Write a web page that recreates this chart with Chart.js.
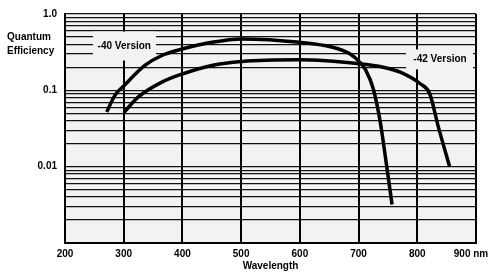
<!DOCTYPE html>
<html>
<head>
<meta charset="utf-8">
<script src="https://cdn.jsdelivr.net/npm/chart.js@4"></script>
<style>
  body { margin: 0; background: #fff; }
</style>
</head>
<body>
<canvas id="qeChart" width="491" height="272"></canvas>
<script>
// values
var wl40 = [271, 285, 301, 336, 365, 401, 450, 501, 600, 656, 685, 702, 712, 725, 737, 748, 757];
var qe40 = [0.052, 0.086, 0.116, 0.212, 0.286, 0.35, 0.426, 0.472, 0.426, 0.367, 0.301, 0.234, 0.185, 0.105, 0.038, 0.010, 0.0032];

var wl42 = [301, 325, 365, 401, 450, 501, 600, 701, 742, 771, 805, 821, 836, 855];
var qe42 = [0.052, 0.082, 0.128, 0.165, 0.212, 0.239, 0.251, 0.223, 0.201, 0.173, 0.122, 0.091, 0.033, 0.010];

var yMajorTicks = [0.01, 0.1, 1];
var yTickLabels = ['0.01', '0.1', '1.0'];
var xTicks = [200, 300, 400, 500, 600, 700, 800, 900];
var xTickLabels = ['200', '300', '400', '500', '600', '700', '800', '900 nm'];

var boldFont = { family: 'Liberation Sans, Arial, sans-serif', size: 10, weight: 'bold' };
var boldCss = 'bold 10px "Liberation Sans", Arial, sans-serif';

// every 1..9 step in each decade gets a grid line
var yGridValues = [];
[0.001, 0.01, 0.1].forEach(function(dec) {
    for (var m = 1; m < 10; m++) yGridValues.push(+(dec * m).toPrecision(3));
});
yGridValues.push(1);

function toPoints(xs, ys) {
    return xs.map(function(x, i) { return { x: x, y: ys[i] }; });
}

// plot background + annotation boxes + the corner title
var decorPlugin = {
    id: 'decor',
    beforeDraw: function(chart) {
        var a = chart.chartArea, c = chart.ctx;
        c.save();
        c.fillStyle = '#f2f2f2';
        c.fillRect(a.left, a.top, a.right - a.left, a.bottom - a.top);
        c.restore();
    },
    beforeDatasetsDraw: function(chart) {
        var c = chart.ctx, xs = chart.scales.x, ys = chart.scales.y;
        function box(x0, x1, y0, y1, tx, ty, text) {
            var l = xs.getPixelForValue(x0), r = xs.getPixelForValue(x1);
            var t = ys.getPixelForValue(y0), b = ys.getPixelForValue(y1);
            c.fillStyle = '#f2f2f2';
            c.fillRect(l, t, r - l, b - t);
            c.fillStyle = '#000';
            c.font = boldCss;
            c.textAlign = 'center';
            c.textBaseline = 'middle';
            c.fillText(text, xs.getPixelForValue(tx), ys.getPixelForValue(ty));
        }
        c.save();
        box(247.7, 355, 0.588, 0.246, 301, 0.375, '-40 Version');
        box(780.8, 895, 0.343, 0.188, 838.7, 0.254, '-42 Version');
        c.restore();
    },
    afterDraw: function(chart) {
        var c = chart.ctx, xs = chart.scales.x;
        c.save();
        c.fillStyle = '#000';
        c.font = boldCss;
        c.textAlign = 'left';
        c.textBaseline = 'middle';
        c.fillText('Quantum', 7, 37.5);
        c.fillText('Efficiency', 7, 51);
        // last x label sits shifted left so it stays inside the page
        c.textAlign = 'center';
        c.fillText(xTickLabels[xTickLabels.length - 1], xs.getPixelForValue(900) - 5, xs.top + 11);
        c.restore();
    }
};

var ctx = document.getElementById('qeChart').getContext('2d');
var qeChart = new Chart(ctx, {
    type: 'scatter',
    data: {
        datasets: [{
            label: '-40 Version',
            data: toPoints(wl40, qe40),
            showLine: true,
            borderColor: '#000',
            borderWidth: 3.5,
            pointRadius: 0,
            cubicInterpolationMode: 'monotone'
        }, {
            label: '-42 Version',
            data: toPoints(wl42, qe42),
            showLine: true,
            borderColor: '#000',
            borderWidth: 3.5,
            pointRadius: 0,
            cubicInterpolationMode: 'monotone'
        }]
    },
    options: {
        responsive: false,
        animation: false,
        layout: { padding: { top: 13, left: 0, right: 0, bottom: 0 } },
        plugins: {
            legend: { display: false },
            tooltip: { enabled: false }
        },
        scales: {
            x: {
                type: 'linear',
                min: 200,
                max: 900,
                afterBuildTicks: function(s) {
                    s.ticks = xTicks.map(function(v) { return { value: v }; });
                },
                ticks: {
                    autoSkip: false,
                    maxRotation: 0,
                    padding: 5,
                    color: '#000',
                    font: boldFont,
                    callback: function(v) {
                        var i = xTicks.indexOf(v);
                        // the last one is drawn by the plugin
                        return (i >= 0 && i < xTicks.length - 1) ? xTickLabels[i] : '';
                    }
                },
                grid: { color: '#000', lineWidth: 2, drawTicks: false },
                border: { color: '#000', width: 2 },
                title: {
                    display: true,
                    text: 'Wavelength',
                    color: '#000',
                    font: boldFont,
                    padding: { top: 0, bottom: 0 }
                },
                afterFit: function(s) {
                    s.height = 29;
                    s.paddingRight = 15;
                }
            },
            y: {
                type: 'logarithmic',
                min: 0.001,
                max: 1,
                afterBuildTicks: function(s) {
                    s.ticks = yGridValues.map(function(v) { return { value: v }; });
                },
                ticks: {
                    autoSkip: false,
                    padding: 8,
                    color: '#000',
                    font: boldFont,
                    callback: function(v) {
                        for (var i = 0; i < yMajorTicks.length; i++) {
                            if (Math.abs(v - yMajorTicks[i]) < yMajorTicks[i] * 1e-6) return yTickLabels[i];
                        }
                        return '';
                    }
                },
                grid: { color: '#111', lineWidth: 1.2, drawTicks: false },
                border: { color: '#000', width: 2 },
                afterFit: function(s) {
                    s.width = 65;
                }
            }
        }
    },
    plugins: [decorPlugin]
});
</script>
</body>
</html>
